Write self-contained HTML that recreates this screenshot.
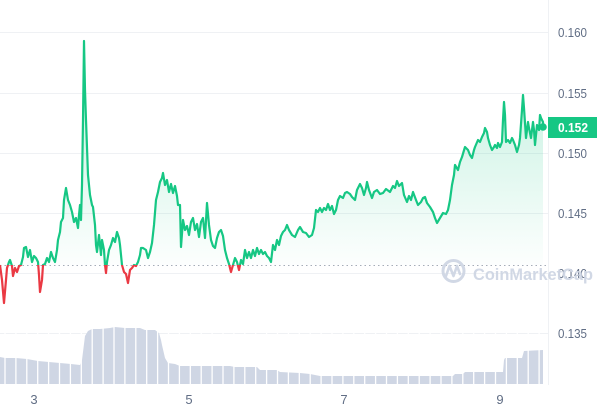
<!DOCTYPE html>
<html><head><meta charset="utf-8"><style>
html,body{margin:0;padding:0;background:#fff;}
svg{display:block;}
text{font-family:"Liberation Sans",sans-serif;}
</style></head><body>
<svg width="600" height="413" viewBox="0 0 600 413" xmlns="http://www.w3.org/2000/svg">
<defs>
<linearGradient id="gf" gradientUnits="userSpaceOnUse" x1="0" y1="95" x2="0" y2="265">
<stop offset="0" stop-color="#16c784" stop-opacity="0.22"/>
<stop offset="1" stop-color="#16c784" stop-opacity="0.01"/>
</linearGradient>
<clipPath id="above"><rect x="0" y="0" width="548" height="265"/></clipPath>
<clipPath id="below"><rect x="0" y="265" width="548" height="150"/></clipPath>
</defs>
<!-- gridlines -->
<g stroke="#eff1f4" stroke-width="1">
<line x1="0" y1="32.5" x2="548" y2="32.5"/>
<line x1="0" y1="93.5" x2="548" y2="93.5"/>
<line x1="0" y1="153.5" x2="548" y2="153.5"/>
<line x1="0" y1="213.5" x2="548" y2="213.5"/>
<line x1="0" y1="273.5" x2="548" y2="273.5"/>
<line x1="0" y1="333.5" x2="548" y2="333.5"/>
<line x1="548.5" y1="0" x2="548.5" y2="385"/>
</g>
<!-- volume -->
<path fill="#cfd6e4" d="M0,384 L0,357 L5,358 L16,358 L27,359 L38,361 L49,362 L60,363 L71,364 L80,365 L82,360 L83,352 L85,336 L88,331 L92,329 L100,329 L110,328 L115,327 L125,328 L140,328 L145,330 L155,330 L159,333 L161,340 L162,345 L165,358 L168,363 L175,364 L180,366 L230,366 L235,367 L257,367 L260,370 L277,370 L280,372 L300,373 L310,374 L320,376 L453,376 L455,374 L463,374 L465,372 L503,372 L504,360 L505,358 L522,358 L524,351 L543,350 L543,384 Z"/>
<path fill="none" stroke="#ffffff" stroke-width="1.3" d="M5,320V384 M15.9,320V384 M26.8,320V384 M37.7,320V384 M48.6,320V384 M59.5,320V384 M70.4,320V384 M81.3,320V384 M92.2,320V384 M103.1,320V384 M114,320V384 M124.9,320V384 M135.8,320V384 M146.7,320V384 M157.6,320V384 M168.5,320V384 M179.4,320V384 M190.3,320V384 M201.2,320V384 M212.1,320V384 M223,320V384 M233.9,320V384 M244.8,320V384 M255.7,320V384 M266.6,320V384 M277.5,320V384 M288.4,320V384 M299.3,320V384 M310.2,320V384 M321.1,320V384 M332,320V384 M342.9,320V384 M353.8,320V384 M364.7,320V384 M375.6,320V384 M386.5,320V384 M397.4,320V384 M408.3,320V384 M419.2,320V384 M430.1,320V384 M441,320V384 M451.9,320V384 M462.8,320V384 M473.7,320V384 M484.6,320V384 M495.5,320V384 M506.4,320V384 M517.3,320V384 M528.2,320V384 M539.1,320V384"/>
<!-- fill -->
<path id="fillp" fill="url(#gf)" clip-path="url(#above)" d=""/>
<!-- baseline -->
<line x1="0" y1="265.5" x2="548" y2="265.5" stroke="#a6adb8" stroke-width="1" stroke-dasharray="1.5 3"/>
<!-- lines -->
<path id="lg" fill="none" stroke="#16c784" stroke-width="2.2" stroke-linejoin="round" clip-path="url(#above)" d=""/>
<path id="lr" fill="none" stroke="#ea3943" stroke-width="2.2" stroke-linejoin="round" clip-path="url(#below)" d=""/>
<circle cx="543" cy="127" r="3.8" fill="#16c784"/>
<!-- y labels -->
<g fill="#616e85" font-size="12.5">
<text x="558" y="37" textLength="29" lengthAdjust="spacingAndGlyphs">0.160</text>
<text x="558" y="98" textLength="29" lengthAdjust="spacingAndGlyphs">0.155</text>
<text x="558" y="158" textLength="29" lengthAdjust="spacingAndGlyphs">0.150</text>
<text x="558" y="218" textLength="29" lengthAdjust="spacingAndGlyphs">0.145</text>
<text x="558" y="278" textLength="29" lengthAdjust="spacingAndGlyphs">0.140</text>
<text x="558" y="338" textLength="29" lengthAdjust="spacingAndGlyphs">0.135</text>
</g>
<!-- price tag -->
<rect x="548" y="117" width="49" height="21" fill="#16c784"/>
<text x="558" y="132" fill="#fff" font-size="13" font-weight="bold" textLength="30" lengthAdjust="spacingAndGlyphs">0.152</text>
<!-- x labels -->
<g fill="#616e85" font-size="13" text-anchor="middle">
<text x="34" y="404">3</text>
<text x="189" y="404">5</text>
<text x="344" y="404">7</text>
<text x="500" y="404">9</text>
</g>
<!-- watermark -->
<g opacity="0.95">
<circle cx="453.5" cy="271" r="10.5" fill="none" stroke="#cfd6e4" stroke-width="3"/>
<path d="M446,276 L449.5,266 L453.5,276 L457,266 L460,274" fill="none" stroke="#cfd6e4" stroke-width="2.6" stroke-linejoin="round" stroke-linecap="round"/>
<text x="473" y="280" fill="#cfd6e4" font-size="17" font-weight="bold" textLength="120" lengthAdjust="spacingAndGlyphs">CoinMarketCap</text>
</g>
<script>
var P=[[0,265],[2,280],[4,303],[6,280],[7,268],[9,262],[10,260],[12,266],[13,276],[15,268],[17,272],[19,266],[21,265],[23,257],[24,248],[26,247],[28,257],[30,250],[32,262],[34,256],[36,258],[38,262],[39,275],[40,292],[42,280],[43,265],[45,264],[47,258],[49,262],[51,252],[53,258],[55,262],[57,250],[58,240],[60,232],[61,222],[63,218],[64,200],[66,188],[68,200],[70,205],[72,212],[74,222],[76,218],[78,228],[79,215],[80,205],[81,220],[82,185],[83,120],[84,41],[85,90],[86,120],[88,175],[90,195],[92,205],[93,207],[95,225],[96,245],[97,252],[99,235],[100,245],[101,255],[102,240],[104,250],[105,265],[106,273],[107,262],[109,250],[111,245],[113,238],[115,242],[117,232],[119,238],[120,245],[122,265],[124,272],[126,274],[128,283],[130,270],[132,268],[134,265],[136,266],[138,262],[140,255],[141,248],[143,248],[146,250],[148,258],[150,252],[152,243],[154,225],[156,200],[158,192],[160,182],[162,178],[163,173],[165,185],[167,180],[169,192],[171,184],[173,193],[175,186],[177,196],[178,205],[180,205],[181,247],[183,220],[185,230],[187,226],[189,235],[191,222],[193,218],[195,230],[197,224],[199,237],[201,222],[203,218],[205,238],[207,203],[209,225],[211,240],[213,246],[215,248],[217,238],[219,232],[221,230],[223,236],[225,250],[227,258],[229,264],[231,272],[233,265],[235,258],[237,262],[239,270],[241,260],[243,264],[245,250],[247,258],[249,252],[251,258],[253,250],[255,256],[257,248],[259,254],[261,250],[263,254],[265,252],[267,256],[269,258],[271,262],[273,245],[275,250],[277,240],[279,245],[281,236],[283,232],[285,230],[287,225],[289,230],[292,235],[295,237],[298,230],[300,227],[303,232],[306,233],[309,237],[312,235],[314,228],[316,210],[318,212],[320,208],[322,212],[324,208],[326,210],[328,204],[330,210],[332,206],[334,214],[336,210],[338,200],[340,196],[343,198],[345,193],[347,192],[350,194],[352,197],[355,200],[357,190],[360,184],[362,188],[364,195],[366,188],[367,182],[369,190],[372,198],[374,192],[377,190],[380,194],[383,193],[386,189],[390,192],[393,186],[395,188],[397,181],[399,186],[402,183],[404,195],[407,202],[409,196],[411,200],[413,192],[416,200],[418,205],[421,202],[423,198],[425,197],[427,203],[430,207],[433,212],[435,218],[437,223],[440,218],[443,213],[446,214],[448,210],[450,200],[452,185],[454,175],[455,165],[458,170],[460,162],[462,157],[465,147],[468,150],[470,155],[472,158],[474,150],[475,147],[478,140],[480,142],[482,137],[484,133],[485,128],[487,132],[488,138],[490,145],[492,150],[494,147],[495,145],[497,148],[498,143],[500,147],[502,142],[503,120],[504,102],[505,115],[506,142],[508,140],[510,143],[512,138],[513,140],[515,145],[517,152],[519,145],[520,138],[522,110],[523,95],[524,108],[526,138],[527,130],[528,122],[529,128],[531,138],[532,130],[533,122],[534,130],[535,145],[536,135],[537,125],[539,130],[540,115],[541,118],[543,122],[543,127]];
var d="M"+P.map(function(p){return p[0]+","+p[1];}).join(" L");
document.getElementById("lg").setAttribute("d",d);
document.getElementById("lr").setAttribute("d",d);
document.getElementById("fillp").setAttribute("d",d+" L543,265 L0,265 Z");
</script>
</svg>
</body></html>
